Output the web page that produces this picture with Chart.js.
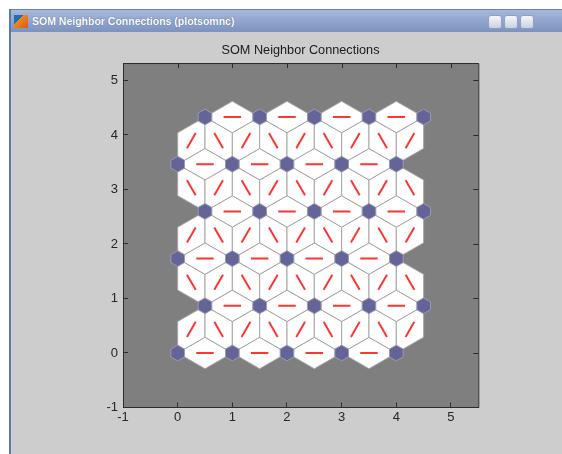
<!DOCTYPE html>
<html><head><meta charset="utf-8">
<script src="https://cdn.jsdelivr.net/npm/chart.js@4.4.1/dist/chart.umd.min.js"></script>
<style>
html,body{margin:0;padding:0;background:#fff;width:562px;height:454px;overflow:hidden;}
#win{position:absolute;left:9px;top:9px;width:600px;height:460px;background:#cdcdcd;border-left:2px solid #5f78ab;}
#bar{position:absolute;left:0;top:0;right:0;height:22px;background:linear-gradient(#a6b8da,#7c93c0);border-top:1px solid #6a82b3;}
#bar .t{position:absolute;left:21px;top:5px;font:bold 10.5px "Liberation Sans",Arial,sans-serif;color:#fff;text-shadow:0 0 1px #3c4c78;white-space:nowrap;}
#bar .ic{position:absolute;left:3px;top:5px;width:14px;height:13px;background:linear-gradient(135deg,#1d6fb0 0%,#1d6fb0 35%,#f08a1c 36%,#e2541a 100%);}
.btn{position:absolute;top:5px;width:12px;height:12px;border:1px solid #8da0c4;border-radius:3px;background:linear-gradient(#f4f6fa,#c9d2e4);}
#cw{position:absolute;left:0;top:0;width:562px;height:454px;}
</style></head>
<body>
<div id="win">
  <div id="bar"><div class="ic"></div><div class="t">SOM Neighbor Connections (plotsomnc)</div>
    <div class="btn" style="left:477px"></div><div class="btn" style="left:493px"></div><div class="btn" style="left:509px"></div>
  </div>
</div>
<div id="cw"><canvas id="c" width="562" height="454"></canvas></div>
<script>
// ---- data ----
const neuronX = [0,1,2,3,4, 0.5,1.5,2.5,3.5,4.5, 0,1,2,3,4, 0.5,1.5,2.5,3.5,4.5, 0,1,2,3,4, 0.5,1.5,2.5,3.5,4.5];
const neuronY = [0,0,0,0,0, 0.866,0.866,0.866,0.866,0.866, 1.732,1.732,1.732,1.732,1.732,
                 2.598,2.598,2.598,2.598,2.598, 3.464,3.464,3.464,3.464,3.464, 4.330,4.330,4.330,4.330,4.330];
const xTicks = [-1,0,1,2,3,4,5];
const yTicks = [-1,0,1,2,3,4,5];
const xRange = [-1, 5.5];
const yRange = [-1, 5.32];
const chartTitle = 'SOM Neighbor Connections';

// neighbor links (distance 1 in the hex grid)
const links = [];
for (let i = 0; i < neuronX.length; i++) {
  for (let j = i + 1; j < neuronX.length; j++) {
    const d = Math.hypot(neuronX[j]-neuronX[i], neuronY[j]-neuronY[i]);
    if (d < 1.01) links.push([i, j]);
  }
}
// red connection segments
const segData = [];
links.forEach(([i, j]) => {
  const mx = (neuronX[i]+neuronX[j])/2, my = (neuronY[i]+neuronY[j])/2;
  const dx = neuronX[j]-neuronX[i], dy = neuronY[j]-neuronY[i];
  segData.push({x: mx - 0.16*dx, y: my - 0.16*dy});
  segData.push({x: mx + 0.16*dx, y: my + 0.16*dy});
  segData.push({x: mx, y: null});
});

const hexX = [-0.5, 0, 0.5, 0.5, 0, -0.5];
const hexY = [0.2887, 0.5774, 0.2887, -0.2887, -0.5774, -0.2887];
const hexScale = 0.25;

const somPlugin = {
  id: 'som',
  beforeDraw(chart) {
    const {ctx, chartArea: a} = chart;
    ctx.save();
    ctx.fillStyle = '#7f7f7f';
    ctx.fillRect(a.left, a.top, a.right - a.left, a.bottom - a.top);
    ctx.restore();
  },
  beforeDatasetsDraw(chart) {
    const {ctx, scales: {x, y}} = chart;
    ctx.save();
    ctx.fillStyle = '#ffffff';
    ctx.strokeStyle = '#a6a6a6';
    ctx.lineWidth = 1;
    const k = 0.2887;
    links.forEach(([i, j]) => {
      const mx = (neuronX[i]+neuronX[j])/2, my = (neuronY[i]+neuronY[j])/2;
      const dx = neuronX[j]-neuronX[i], dy = neuronY[j]-neuronY[i];
      const pts = [[neuronX[i], neuronY[i]], [mx - dy*k, my + dx*k], [neuronX[j], neuronY[j]], [mx + dy*k, my - dx*k]];
      ctx.beginPath();
      pts.forEach((p, n) => {
        const px = x.getPixelForValue(p[0]), py = y.getPixelForValue(p[1]);
        if (n === 0) ctx.moveTo(px, py); else ctx.lineTo(px, py);
      });
      ctx.closePath();
      ctx.fill();
      ctx.stroke();
    });
    ctx.restore();
  },
  afterDatasetsDraw(chart) {
    const {ctx, chartArea: a, scales: {x, y}} = chart;
    ctx.save();
    ctx.fillStyle = '#646499';
    ctx.strokeStyle = '#9a9ab4';
    ctx.lineWidth = 1;
    for (let i = 0; i < neuronX.length; i++) {
      ctx.beginPath();
      for (let n = 0; n < 6; n++) {
        const px = x.getPixelForValue(neuronX[i] + hexX[n]*hexScale);
        const py = y.getPixelForValue(neuronY[i] + hexY[n]*hexScale);
        if (n === 0) ctx.moveTo(px, py); else ctx.lineTo(px, py);
      }
      ctx.closePath();
      ctx.fill();
      ctx.stroke();
    }
    // box top/right with mirrored ticks
    ctx.strokeStyle = '#2b2b2b';
    ctx.beginPath();
    ctx.moveTo(a.left, a.top + 0.5); ctx.lineTo(a.right + 0.5, a.top + 0.5); ctx.lineTo(a.right + 0.5, a.bottom);
    xTicks.forEach(v => { const px = Math.round(x.getPixelForValue(v)) + 0.5; ctx.moveTo(px, a.top); ctx.lineTo(px, a.top + 5); });
    yTicks.forEach(v => { const py = Math.round(y.getPixelForValue(v)) + 0.5; if (py < a.bottom - 1) { ctx.moveTo(a.right, py); ctx.lineTo(a.right - 5, py); } });
    ctx.stroke();
    ctx.restore();
  }
};

const tickFont = {family: '"Liberation Sans", Arial, sans-serif', size: 13};
new Chart(document.getElementById('c'), {
  type: 'scatter',
  data: {
    datasets: [{
      data: segData,
      showLine: true,
      spanGaps: false,
      borderColor: '#ff3535',
      borderWidth: 2,
      pointRadius: 0,
      pointHoverRadius: 0
    }]
  },
  options: {
    responsive: false,
    animation: false,
    devicePixelRatio: 1,
    events: [],
    layout: {padding: {left: 39, right: 0, top: 0, bottom: 0}},
    plugins: {
      legend: {display: false},
      tooltip: {enabled: false},
      title: {
        display: true, text: chartTitle, color: '#1a1a1a',
        font: {family: '"Liberation Sans", Arial, sans-serif', size: 12.7, weight: 'normal'},
        padding: {top: 43, bottom: 4.8}
      }
    },
    scales: {
      x: {
        type: 'linear', min: xRange[0], max: xRange[1],
        afterBuildTicks: s => { s.ticks = xTicks.map(v => ({value: v})); },
        afterFit: s => { s.height = 46.5; },
        grid: {drawOnChartArea: false, drawTicks: true, tickLength: -5, color: '#2b2b2b'},
        border: {display: true, color: '#2b2b2b', width: 1},
        ticks: {autoSkip: false, maxRotation: 0, padding: 7.5, color: '#262626', font: tickFont, callback: v => String(v)}
      },
      y: {
        type: 'linear', min: yRange[0], max: yRange[1],
        afterBuildTicks: s => { s.ticks = yTicks.map(v => ({value: v})); },
        afterFit: s => { s.width = 84; },
        grid: {drawOnChartArea: false, drawTicks: true, tickLength: -5, color: '#2b2b2b'},
        border: {display: true, color: '#2b2b2b', width: 1},
        ticks: {autoSkip: false, padding: 10, color: '#262626', font: tickFont, callback: v => String(v)}
      },
      yPad: {
        type: 'linear', position: 'right', display: true, min: yRange[0], max: yRange[1],
        afterFit: s => { s.width = 83.7; },
        grid: {display: false},
        border: {display: false},
        ticks: {display: false}
      }
    }
  },
  plugins: [somPlugin]
});
</script>
</body></html>
